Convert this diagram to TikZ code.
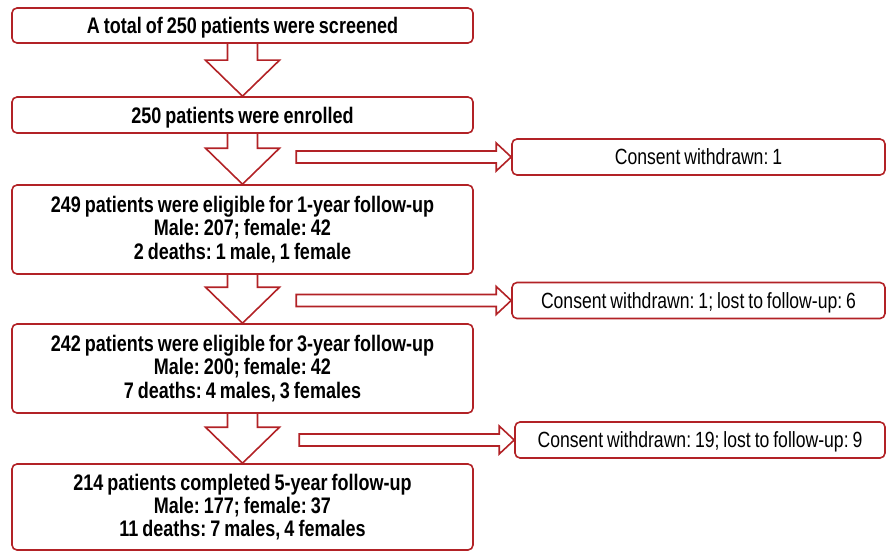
\documentclass[tikz,border=0pt]{standalone}
\usepackage{fontspec}
\setmainfont[FakeStretch=0.8,WordSpace=0.8]{Liberation Sans}
\usetikzlibrary{calc}
\frenchspacing
\definecolor{boxred}{RGB}{178,34,38}
\newcommand{\blkdown}[2]{%
  \draw[blockarrow] ($(#1.south)+(-15,0)$) -- ($(#2.north)+(-15,-36)$) -- ($(#2.north)+(-37,-36)$) -- (#2.north)
    -- ($(#2.north)+(37,-36)$) -- ($(#2.north)+(15,-36)$) -- ($(#1.south)+(15,0)$);}
\newcommand{\blkright}[1]{%
  \draw[blockarrow] ($(#1.west)+(-15,-6)$) -- ($(#1.west)+(-15,-14)$) -- (#1.west) -- ($(#1.west)+(-15,14)$)
    -- ($(#1.west)+(-15,6)$) -- ($(#1.west)+(-215,6)$) -- ($(#1.west)+(-215,-6)$) -- cycle;}
\begin{document}
\frenchspacing
\begin{tikzpicture}[x=1pt,y=-1pt,
  mainbox/.style={draw=boxred, line width=1.6pt, rounded corners=5pt, minimum width=461pt, inner sep=0pt, align=center, font=\fontsize{22.5}{23.3}\selectfont\bfseries\frenchspacing},
  sidebox/.style={draw=boxred, line width=1.6pt, rounded corners=5pt, minimum width=373pt, minimum height=36pt, inner sep=0pt, font=\fontsize{22}{23}\selectfont\frenchspacing},
  blockarrow/.style={draw=boxred, line width=1.6pt, line join=miter}]
\useasboundingbox (0,0) rectangle (886,551);
\node[mainbox, minimum height=35pt, text depth=0pt] (s1) at (242.5,25.5) {A total of 250 patients were screened};
\node[mainbox, minimum height=36pt, text depth=0pt] (s2) at (242.5,115) {250 patients were enrolled};
\node[mainbox, minimum height=89pt] (s3) at (242.5,229.5) {249 patients were eligible for 1-year follow-up\\Male: 207; female: 42\\2 deaths: 1 male, 1 female};
\node[mainbox, minimum height=89pt] (s4) at (242.5,368.5) {242 patients were eligible for 3-year follow-up\\Male: 200; female: 42\\7 deaths: 4 males, 3 females};
\node[mainbox, minimum height=86pt] (s5) at (242.5,507) {214 patients completed 5-year follow-up\\Male: 177; female: 37\\11 deaths: 7 males, 4 females};
\node[sidebox, text depth=0pt] (r1) at (698.5,157) {Consent withdrawn: 1};
\node[sidebox, text depth=0pt] (r2) at (698.5,300.5) {Consent withdrawn: 1; lost to follow-up: 6};
\node[sidebox, text depth=0pt, minimum width=370pt] (r3) at (700,440) {Consent withdrawn: 19; lost to follow-up: 9};
\blkdown{s1}{s2}
\blkdown{s2}{s3}
\blkdown{s3}{s4}
\blkdown{s4}{s5}
\blkright{r1}
\blkright{r2}
\blkright{r3}
\end{tikzpicture}
\end{document}
